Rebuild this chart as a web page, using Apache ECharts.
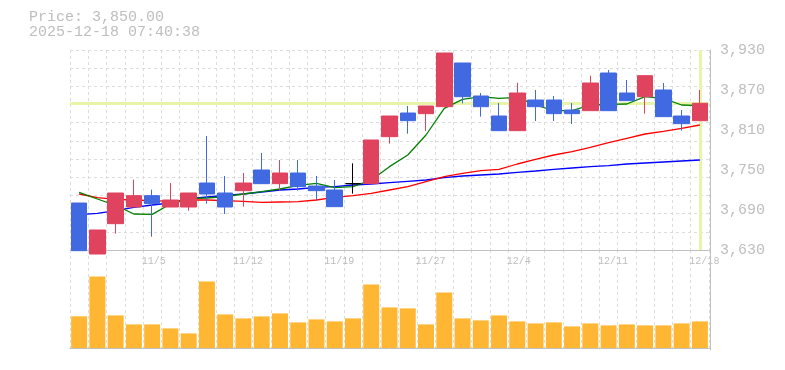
<!DOCTYPE html>
<html><head><meta charset="utf-8">
<script src="https://cdn.jsdelivr.net/npm/echarts@6/dist/echarts.min.js"></script>
<style>html,body{margin:0;padding:0;background:#fff}#c{width:785px;height:370px}</style>
</head><body><div id="c"></div>
<script>
const dates = ['10/29','10/30','10/31','11/4','11/5','11/6','11/7','11/10','11/11','11/12','11/13','11/14','11/17','11/18','11/19','11/20','11/21','11/25','11/26','11/27','11/28','12/1','12/2','12/3','12/4','12/5','12/8','12/9','12/10','12/11','12/12','12/15','12/16','12/17','12/18'];
// [open, close, low, high]
const ohlc = [
 [3700.5,3629,3629,3700.5],[3624,3660,3624,3660],[3669.5,3715.5,3654.5,3715.5],[3694.5,3711.5,3694.5,3735.5],
 [3711.5,3699.5,3650,3720.5],[3694.5,3705,3694.5,3730.5],[3694.5,3715.5,3689,3715.5],[3730.5,3714,3699.5,3801],
 [3715.5,3694.5,3684,3741],[3719,3730.5,3695,3745.5],[3750,3729.5,3729.5,3775.5],[3729.5,3745.5,3719,3765],
 [3745.5,3725,3719,3765],[3726,3719,3704.5,3741],[3720,3695,3695,3735],[3729.5,3729.5,3714.5,3760],
 [3729.5,3795,3729.5,3795],[3800,3831,3789.5,3831],[3835.5,3824,3804.5,3846],[3834.5,3846,3808.5,3846],
 [3845,3925.5,3845,3925.5],[3910.5,3860,3850,3910.5],[3861,3845,3830,3865.5],[3831,3809,3809,3850.5],
 [3809,3865.5,3809,3881],[3855,3845,3823.5,3870],[3855,3834.5,3823.5,3861],[3840,3834.5,3819,3850.5],
 [3839,3880.5,3839,3891.5],[3895.5,3839,3839,3900],[3865.5,3854,3854,3885],[3860,3891.5,3834.5,3891.5],
 [3870,3830,3830,3880.5],[3831,3819.5,3809,3840],[3824,3850,3824,3870]
];
const ma5 = [3716.5,3706.5,3697,3684,3683.5,3699,3707,3708,3710,3714,3717.5,3721.5,3727,3730,3723.5,3725,3735,3755,3772.5,3802.5,3842.5,3856,3860,3857.5,3859,3847.5,3839,3839,3847.5,3848.5,3849,3860,3857.5,3847.5,3846.5];
const ma25 = [3714,3708.5,3706,3705,3704,3703,3705,3705,3704,3703,3701.5,3702,3702.5,3705,3709,3711.5,3715,3720,3725,3732.5,3740,3745,3749,3751,3759,3766,3772.5,3777.5,3784,3791,3797.5,3804,3808,3812.5,3817.5];
const ma75 = [3683,3685,3689,3694,3697.5,3700.5,3707,3709.5,3712,3714,3717,3720,3721.5,3724,3725,3727.5,3729,3731,3733,3735,3738.5,3741,3742.5,3744,3746.5,3748.5,3751,3753,3755,3756.5,3759,3760.5,3762,3763.5,3765];
const volume = [31.7,71.6,32.6,23.6,23.6,19.6,14.6,66.6,33.6,29.6,31.6,34.6,25.6,28.6,26.6,29.6,63.6,40.6,39.6,23.6,55.6,29.6,27.6,32.6,26.6,24.6,25.6,21.6,24.6,22.6,23.6,22.6,22.6,24.6,26.6];
const priceMin = 3630, priceMax = 3930, priceStep = 60;
const lastPrice = 3850;
const stamp = '2025-12-18 07:40:38';

const font = '"Liberation Mono", monospace';
const txt = '#bebebe';
const axisCol = '#c0c0c0';
const gridCol = '#dcdcdc';
const hl = '#e6f5a8';
const fmt2 = v => v.toLocaleString('en-US',{minimumFractionDigits:2,maximumFractionDigits:2});

const chart = echarts.init(document.getElementById('c'));
const catAxis = (gi) => ({
  type:'category', gridIndex:gi, data:dates, boundaryGap:true,
  axisLine:{show:true,lineStyle:{color:axisCol,width:1}}, axisTick:{show:false}, axisLabel:{show:false},
  splitLine:{show:true,interval:0,lineStyle:{color:gridCol,width:1,type:[3,3]}}
});
chart.setOption({
  animation:false,
  title:{text:'Price: '+fmt2(lastPrice)+'\n'+stamp, left:29, top:10, padding:0,
    textStyle:{fontFamily:font,fontSize:15,lineHeight:15,fontWeight:'normal',color:txt}},
  grid:[
    {left:70,right:76,top:50,height:200},
    {left:70,right:76,top:250,height:100},
    {left:59.5,right:86.5,top:50,height:200}
  ],
  xAxis:[
    catAxis(0),
    catAxis(1),
    {type:'category',gridIndex:2,data:dates,boundaryGap:true,axisLine:{show:false},axisTick:{show:false},splitLine:{show:false},
     axisLabel:{interval:(i)=>i%5===4, align:'left', margin:6, fontFamily:font, fontSize:10, color:txt}}
  ],
  yAxis:[
    {type:'value',gridIndex:0,position:'right',min:priceMin,max:priceMax,interval:priceStep,offset:1,
     axisLine:{show:true,lineStyle:{color:axisCol}},axisTick:{show:false},splitLine:{show:false},
     axisLabel:{margin:10,fontFamily:font,fontSize:15,color:txt,padding:[6,0,0,0],formatter:v=>v.toLocaleString('en-US')}},
    {type:'value',gridIndex:0,min:0,max:11,interval:1,axisLine:{show:false},axisTick:{show:false},axisLabel:{show:false},
     splitLine:{show:true,lineStyle:{color:gridCol,width:1,type:[3,3]}}},
    {type:'value',gridIndex:1,position:'right',min:-2,max:98,offset:1,axisLine:{show:true,lineStyle:{color:axisCol}},
     axisTick:{show:false},axisLabel:{show:false},splitLine:{show:false}},
    {type:'value',gridIndex:2,show:false}
  ],
  series:[
    {type:'line',xAxisIndex:0,yAxisIndex:0,data:[],z:1,silent:true,
     markLine:{z:1,silent:true,symbol:['none','none'],label:{show:false},animation:false,
       lineStyle:{color:hl,width:3,type:'solid',opacity:1},emphasis:{disabled:true},
       data:[{yAxis:lastPrice},{xAxis:dates[dates.length-1]}]}},
    {type:'line',name:'MA75',xAxisIndex:0,yAxisIndex:0,data:ma75,showSymbol:false,z:2,lineStyle:{color:'#0000ff',width:1.3},itemStyle:{color:'#0000ff'}},
    {type:'line',name:'MA25',xAxisIndex:0,yAxisIndex:0,data:ma25,showSymbol:false,z:2,lineStyle:{color:'#ff0000',width:1.3},itemStyle:{color:'#ff0000'}},
    {type:'line',name:'MA5',xAxisIndex:0,yAxisIndex:0,data:ma5,showSymbol:false,z:2,lineStyle:{color:'#008000',width:1.3},itemStyle:{color:'#008000'}},
    {type:'candlestick',xAxisIndex:0,yAxisIndex:0,data:ohlc,barWidth:16,clip:false,z:3,
     itemStyle:{color:'#e0435e',color0:'#4169e1',borderColor:'#e0435e',borderColor0:'#4169e1',borderColorDoji:'#000000',borderWidth:1}},
    {type:'bar',xAxisIndex:1,yAxisIndex:2,data:volume,barWidth:16,itemStyle:{color:'#ffb733'}}
  ]
});
</script></body></html>
